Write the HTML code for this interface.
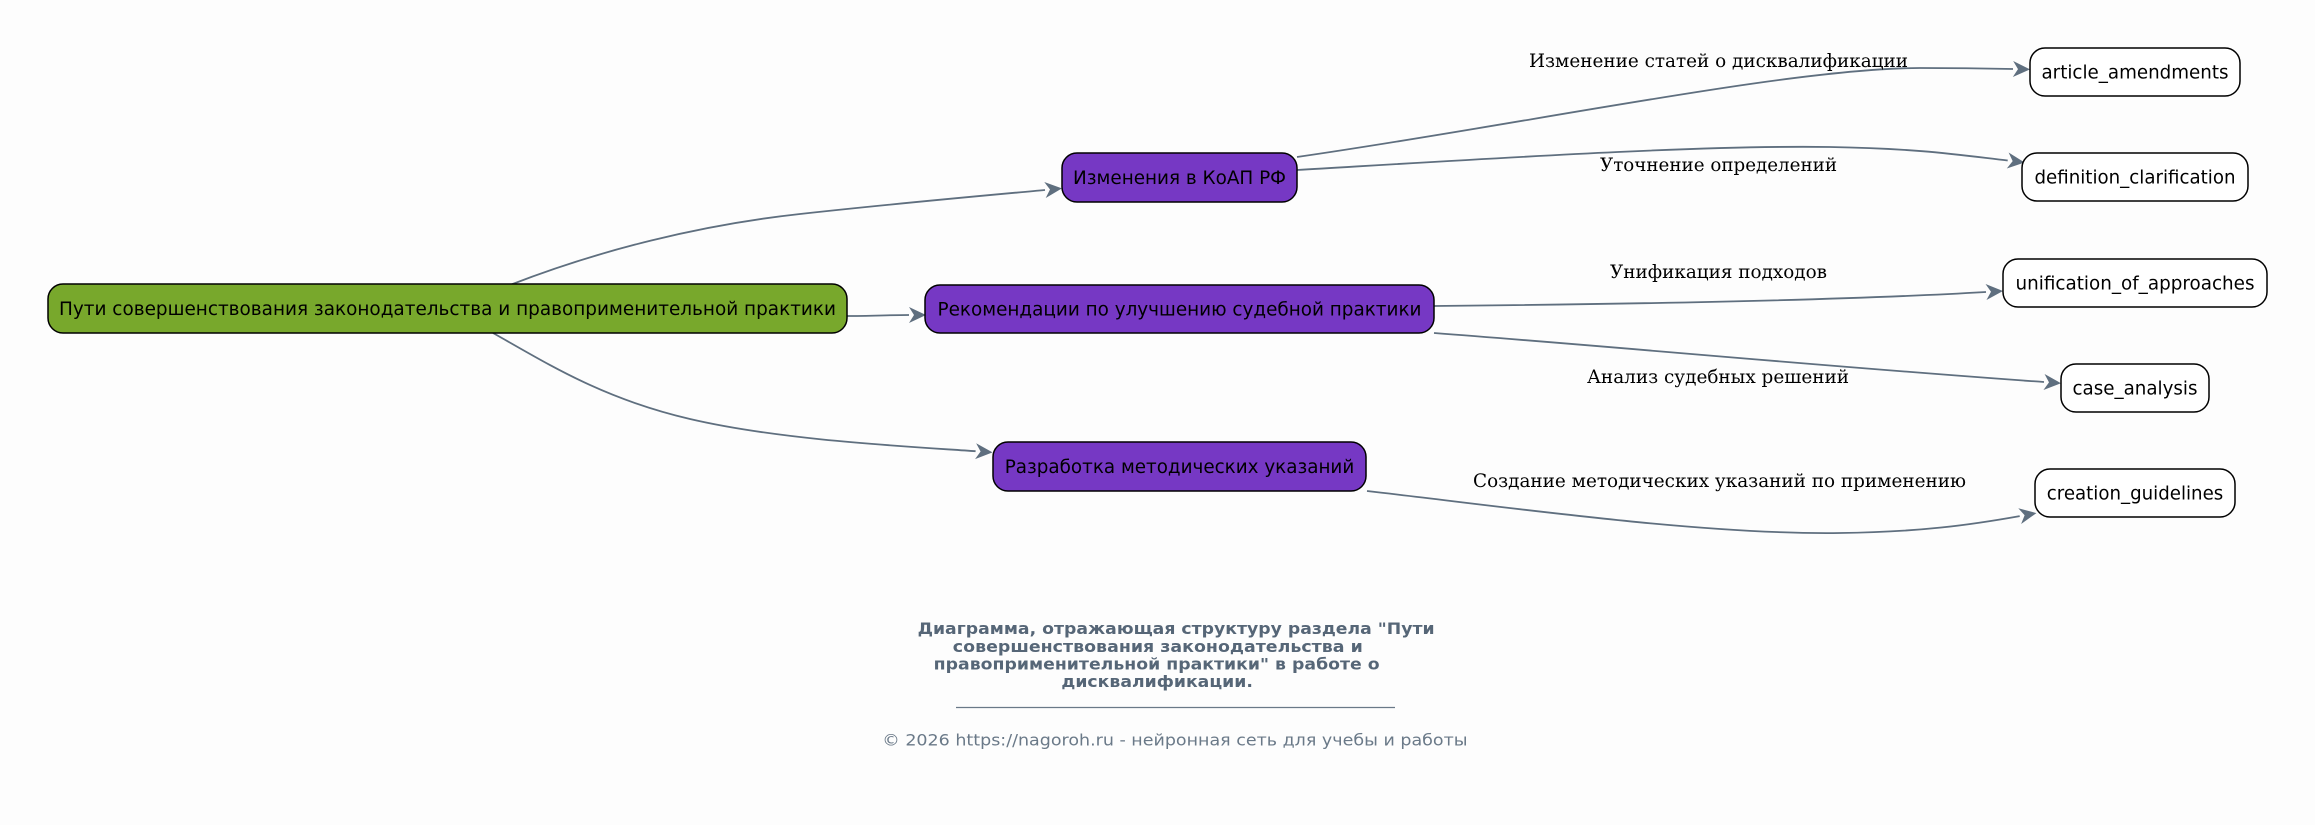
<!DOCTYPE html>
<html>
<head>
<meta charset="utf-8">
<style>
html,body{margin:0;padding:0;background:#fdfdfd;}
svg{display:block;}
.n{font-family:"DejaVu Sans","Liberation Sans",sans-serif;font-size:18.3px;fill:#000;text-anchor:middle;}
.e{font-family:"DejaVu Serif","Liberation Serif",serif;font-size:18.67px;fill:#000;}
.ft{font-family:"DejaVu Sans","Liberation Sans",sans-serif;font-size:16px;font-weight:bold;fill:#566677;}
.cp{font-family:"DejaVu Sans","Liberation Sans",sans-serif;font-size:16px;fill:#6a7988;}
.ed{fill:none;stroke:#5f6f7f;stroke-width:1.8;}
</style>
</head>
<body>
<svg width="2315" height="825" viewBox="0 0 2315 825" xmlns="http://www.w3.org/2000/svg">
<defs>
<marker id="a" markerUnits="userSpaceOnUse" markerWidth="20" markerHeight="20" viewBox="0 -10 20 20" refX="0" refY="0" orient="auto" overflow="visible">
<path d="M0,-8 L17,0 L0,8 L5,0 Z" fill="#5f6f7f"/>
</marker>
</defs>
<rect x="0" y="0" width="2315" height="825" fill="#fdfdfd"/>

<!-- edges -->
<path class="ed" d="M510,285 C600,250 700,225 800,214 C900,203 980,196 1045,190" marker-end="url(#a)"/>
<path class="ed" d="M847,316 C870,316 890,315 909,315" marker-end="url(#a)"/>
<path class="ed" d="M493,333 C545,362 600,398 690,419 C780,440 900,446 975.6,451.2" marker-end="url(#a)"/>
<path class="ed" d="M1297,157 C1520,125 1790,68 1920,68 C1960,68 1990,68.5 2013,69" marker-end="url(#a)"/>
<path class="ed" d="M1297,170 C1500,158 1700,145 1830,147 C1920,148.5 1960,155 2007.7,160.5" marker-end="url(#a)"/>
<path class="ed" d="M1434,306 C1650,304 1850,300 1986,292" marker-end="url(#a)"/>
<path class="ed" d="M1434,333 C1620,347 1830,367 2044,382" marker-end="url(#a)"/>
<path class="ed" d="M1367,491 C1500,506 1700,535 1840,533 C1920,532 1970,525 2019.7,516.1" marker-end="url(#a)"/>

<!-- edge labels -->
<text class="e" x="1529" y="67" textLength="379" lengthAdjust="spacingAndGlyphs">Изменение статей о дисквалификации</text>
<text class="e" x="1600" y="171" textLength="237" lengthAdjust="spacingAndGlyphs">Уточнение определений</text>
<text class="e" x="1610" y="278" textLength="217" lengthAdjust="spacingAndGlyphs">Унификация подходов</text>
<text class="e" x="1587" y="383" textLength="262" lengthAdjust="spacingAndGlyphs">Анализ судебных решений</text>
<text class="e" x="1473" y="487" textLength="493" lengthAdjust="spacingAndGlyphs">Создание методических указаний по применению</text>

<!-- nodes -->
<rect x="48" y="284" width="799" height="49" rx="15" ry="15" fill="#78a82c" stroke="#000" stroke-width="1.5"/>
<text class="n" x="447.5" y="315" textLength="777" lengthAdjust="spacingAndGlyphs">Пути совершенствования законодательства и правоприменительной практики</text>

<rect x="1062" y="153" width="235" height="49" rx="15" ry="15" fill="#7638c4" stroke="#000" stroke-width="1.5"/>
<text class="n" x="1179.5" y="184" textLength="213" lengthAdjust="spacingAndGlyphs">Изменения в КоАП РФ</text>

<rect x="925" y="285" width="509" height="48" rx="15" ry="15" fill="#7638c4" stroke="#000" stroke-width="1.5"/>
<text class="n" x="1179.5" y="315.5" textLength="484" lengthAdjust="spacingAndGlyphs">Рекомендации по улучшению судебной практики</text>

<rect x="993" y="442" width="373" height="49" rx="15" ry="15" fill="#7638c4" stroke="#000" stroke-width="1.5"/>
<text class="n" x="1179.5" y="473" textLength="349.5" lengthAdjust="spacingAndGlyphs">Разработка методических указаний</text>

<rect x="2030" y="48" width="210" height="48" rx="15" ry="15" fill="#fff" stroke="#000" stroke-width="1.5"/>
<text class="n" x="2135" y="78.5" textLength="187" lengthAdjust="spacingAndGlyphs">article_amendments</text>

<rect x="2022" y="153" width="226" height="48" rx="15" ry="15" fill="#fff" stroke="#000" stroke-width="1.5"/>
<text class="n" x="2135" y="183.5" textLength="201" lengthAdjust="spacingAndGlyphs">definition_clarification</text>

<rect x="2003" y="259" width="264" height="48" rx="15" ry="15" fill="#fff" stroke="#000" stroke-width="1.5"/>
<text class="n" x="2135" y="289.5" textLength="239" lengthAdjust="spacingAndGlyphs">unification_of_approaches</text>

<rect x="2061" y="364" width="148" height="48" rx="15" ry="15" fill="#fff" stroke="#000" stroke-width="1.5"/>
<text class="n" x="2135" y="394.5" textLength="125" lengthAdjust="spacingAndGlyphs">case_analysis</text>

<rect x="2035" y="469" width="200" height="48" rx="15" ry="15" fill="#fff" stroke="#000" stroke-width="1.5"/>
<text class="n" x="2135" y="499.5" textLength="176.5" lengthAdjust="spacingAndGlyphs">creation_guidelines</text>

<!-- footer -->
<text class="ft" x="917.6" y="634" textLength="517" lengthAdjust="spacingAndGlyphs">Диаграмма, отражающая структуру раздела "Пути</text>
<text class="ft" x="952.8" y="652" textLength="410" lengthAdjust="spacingAndGlyphs">совершенствования законодательства и</text>
<text class="ft" x="933.7" y="669.5" textLength="446" lengthAdjust="spacingAndGlyphs">правоприменительной практики" в работе о</text>
<text class="ft" x="1061.4" y="687" textLength="191.5" lengthAdjust="spacingAndGlyphs">дисквалификации.</text>
<line x1="956" y1="707.5" x2="1395" y2="707.5" stroke="#6a7988" stroke-width="1.2"/>
<text class="cp" x="882.3" y="745.7" textLength="585.3" lengthAdjust="spacingAndGlyphs">© 2026 https://nagoroh.ru - нейронная сеть для учебы и работы</text>
</svg>
</body>
</html>
